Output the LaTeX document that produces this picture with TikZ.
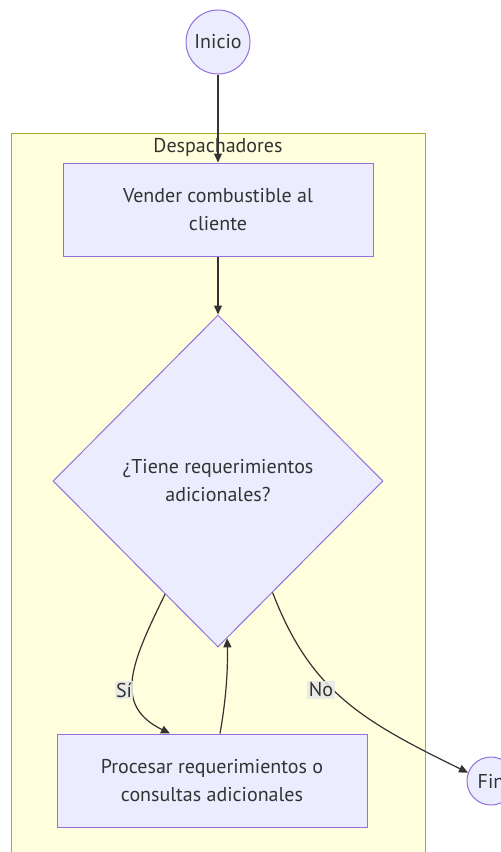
\documentclass[tikz,border=0pt]{standalone}
\usepackage{fontspec}
\setmainfont{PT Sans}
\usetikzlibrary{shapes.geometric,arrows.meta,calc}
\definecolor{nodefill}{HTML}{ECECFF}
\definecolor{nodeline}{HTML}{9370DB}
\definecolor{groupfill}{HTML}{FFFFDE}
\definecolor{groupline}{HTML}{AAAA33}
\definecolor{ink}{HTML}{333333}
\definecolor{labelbg}{HTML}{E8E8E8}
\tikzset{
  base/.style={draw=nodeline, fill=nodefill, line width=1pt, text=ink,
    font=\fontsize{20}{28}\selectfont, align=center, inner sep=0pt},
  procbox/.style={base, rectangle, minimum width=310pt, minimum height=93pt},
  endpoint/.style={base, circle},
  choice/.style={base, diamond, minimum width=330pt, minimum height=332pt},
  flow/.style={draw=ink, line width=1.2pt, -{Triangle[length=9pt,width=8pt]}},
  edgelabel/.style={fill=labelbg, fill opacity=0.85, text opacity=1, text=ink,
    font=\fontsize{20}{22}\selectfont, inner sep=1.5pt}
}
\begin{document}
\begin{tikzpicture}[x=1pt,y=-1pt]
  \useasboundingbox (0,0) rectangle (501,852);
  \fill[white] (0,0) rectangle (501,852);
  % group frame
  \begin{scope}
    \clip (0,0) rectangle (501,852);
    \draw[groupline, fill=groupfill, line width=1pt] (11,133) rectangle (425,870);
  \end{scope}
  \node[text=ink, font=\fontsize{20}{22}\selectfont] (grouptitle) at (218,147) {Despachadores};

  % nodes
  \node[endpoint, minimum size=64pt] (inicio) at (218,42) {Inicio};
  \node[procbox] (vender) at (218,209.5) {Vender combustible al\\cliente};
  \node[choice] (decision) at (218,481) {¿Tiene requerimientos\\adicionales?};
  \node[procbox] (procesar) at (212,780.5) {Procesar requerimientos o\\consultas adicionales};
  \node[endpoint, minimum size=48pt] (fin) at (491,781) {Fin};

  % connector end points
  \coordinate (siStart) at ($(decision.west)!0.68!(decision.south)$);
  \coordinate (noStart) at ($(decision.east)!0.67!(decision.south)$);
  \coordinate (backEnd) at ($(decision.east)!0.945!(decision.south)$);
  \coordinate (siEnd) at (procesar.north -| 170,0);
  \coordinate (backStart) at (procesar.north -| 220,0);

  % connectors
  \draw[flow] (inicio) -- (vender);
  \draw[flow] (vender) -- (decision.north);
  \draw[flow] (siStart) .. controls (132,662) and (112,705) .. (siEnd);
  \draw[flow] (backStart) .. controls (226,700) and (228,670) .. (backEnd);
  \draw[flow] (noStart) .. controls (310,690) and (360,720) .. (fin.160);

  % edge labels
  \node[edgelabel] (silabel) at (124,690) {Sí};
  \node[edgelabel] (nolabel) at (321,690) {No};
\end{tikzpicture}
\end{document}
